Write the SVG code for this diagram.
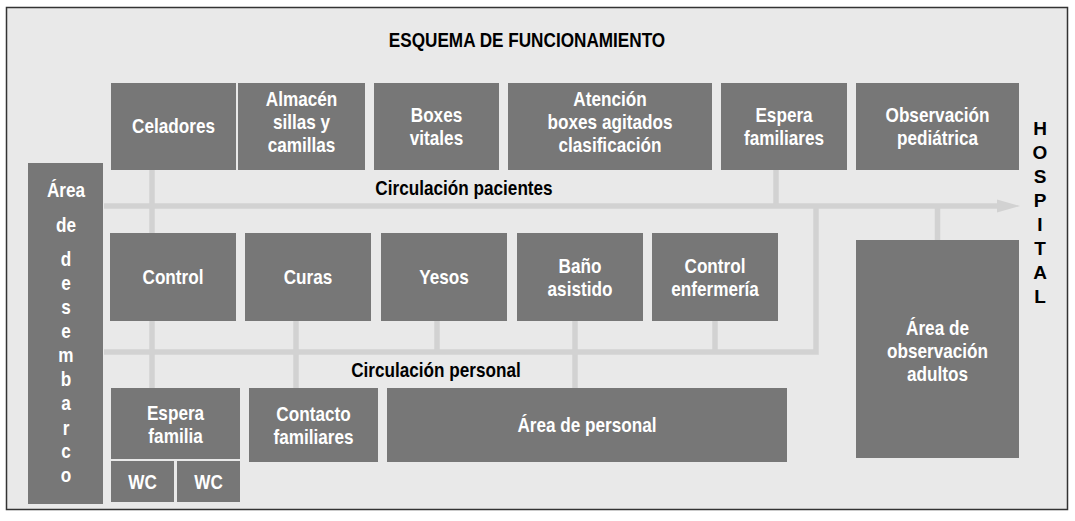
<svg xmlns="http://www.w3.org/2000/svg" width="1075" height="521" viewBox="0 0 1075 521">
<style>
.box{fill:#777777}
.t{font-family:"Liberation Sans",Arial,sans-serif;font-weight:bold;font-size:19.5px;text-anchor:middle;transform-box:fill-box;transform-origin:center;transform:scaleX(0.88)}
.w{fill:#ffffff}
.k{fill:#000000}
.ln{fill:none;stroke:#d2d2d2;stroke-width:5.5}
.h{font-family:"Liberation Sans",Arial,sans-serif;font-weight:bold;font-size:19px;text-anchor:middle;fill:#000}
</style>
<rect x="6.5" y="7.5" width="1061" height="502" fill="#e9e9e9" stroke="#333333" stroke-width="1.5"/>
<text class="t k" x="527" y="47">ESQUEMA DE FUNCIONAMIENTO</text>

<g id="connectors">
<line class="ln" x1="104" y1="206" x2="998" y2="206"/>
<polygon points="997,199.5 1020,206 997,212.5" fill="#d2d2d2"/>
<line class="ln" x1="152" y1="170" x2="152" y2="233"/>
<line class="ln" x1="776" y1="170" x2="776" y2="206"/>
<line class="ln" x1="937.5" y1="206" x2="937.5" y2="240"/>
<polyline class="ln" points="104,352 816,352 816,206"/>
<line class="ln" x1="152" y1="321" x2="152" y2="388"/>
<line class="ln" x1="296" y1="321" x2="296" y2="388"/>
<line class="ln" x1="437" y1="321" x2="437" y2="352"/>
<line class="ln" x1="575" y1="321" x2="575" y2="388"/>
<line class="ln" x1="715" y1="321" x2="715" y2="352"/>
</g>

<text class="t k" x="464" y="195">Circulación pacientes</text>
<text class="t k" x="436" y="377">Circulación personal</text>

<g id="desembarco">
<rect class="box" x="28" y="163" width="75" height="341"/>
<text class="t w" x="66" y="197">Área</text>
<text class="t w" x="66" y="232">de</text>
<text class="t w" x="66" y="266">d</text>
<text class="t w" x="66" y="290">e</text>
<text class="t w" x="66" y="314">s</text>
<text class="t w" x="66" y="338">e</text>
<text class="t w" x="66" y="362">m</text>
<text class="t w" x="66" y="386">b</text>
<text class="t w" x="66" y="410">a</text>
<text class="t w" x="66" y="435">r</text>
<text class="t w" x="66" y="458">c</text>
<text class="t w" x="66" y="482">o</text>
</g>

<g id="celadores">
<rect class="box" x="111" y="83" width="125" height="87"/>
<text class="t w" x="173.5" y="133">Celadores</text>
</g>
<g id="almacen">
<rect class="box" x="238" y="83" width="127" height="87"/>
<text class="t w" x="301.5" y="106">Almacén</text>
<text class="t w" x="301.5" y="129">sillas y</text>
<text class="t w" x="301.5" y="152">camillas</text>
</g>
<g id="boxes-vitales">
<rect class="box" x="374" y="83" width="125" height="87"/>
<text class="t w" x="436.5" y="122">Boxes</text>
<text class="t w" x="436.5" y="145">vitales</text>
</g>
<g id="atencion">
<rect class="box" x="508" y="83" width="204" height="87"/>
<text class="t w" x="610" y="106">Atención</text>
<text class="t w" x="610" y="129">boxes agitados</text>
<text class="t w" x="610" y="152">clasificación</text>
</g>
<g id="espera-familiares">
<rect class="box" x="721" y="83" width="126" height="87"/>
<text class="t w" x="784" y="122">Espera</text>
<text class="t w" x="784" y="145">familiares</text>
</g>
<g id="observacion-pediatrica">
<rect class="box" x="856" y="83" width="163" height="87"/>
<text class="t w" x="937.5" y="122">Observación</text>
<text class="t w" x="937.5" y="145">pediátrica</text>
</g>

<g id="control">
<rect class="box" x="110" y="233" width="126" height="88"/>
<text class="t w" x="173" y="284">Control</text>
</g>
<g id="curas">
<rect class="box" x="245" y="233" width="126" height="88"/>
<text class="t w" x="308" y="284">Curas</text>
</g>
<g id="yesos">
<rect class="box" x="381" y="233" width="126" height="88"/>
<text class="t w" x="444" y="284">Yesos</text>
</g>
<g id="bano">
<rect class="box" x="517" y="233" width="126" height="88"/>
<text class="t w" x="580" y="273">Baño</text>
<text class="t w" x="580" y="296">asistido</text>
</g>
<g id="control-enfermeria">
<rect class="box" x="652" y="233" width="126" height="88"/>
<text class="t w" x="715" y="273">Control</text>
<text class="t w" x="715" y="296">enfermería</text>
</g>

<g id="observacion-adultos">
<rect class="box" x="856" y="240" width="163" height="218"/>
<text class="t w" x="937.5" y="335">Área de</text>
<text class="t w" x="937.5" y="358">observación</text>
<text class="t w" x="937.5" y="381">adultos</text>
</g>

<g id="espera-familia">
<rect class="box" x="111" y="388" width="129" height="71"/>
<text class="t w" x="175.5" y="420">Espera</text>
<text class="t w" x="175.5" y="443">familia</text>
</g>
<g id="wc1">
<rect class="box" x="111" y="461" width="63" height="41"/>
<text class="t w" x="142.5" y="489">WC</text>
</g>
<g id="wc2">
<rect class="box" x="177" y="461" width="63" height="41"/>
<text class="t w" x="208.5" y="489">WC</text>
</g>
<g id="contacto">
<rect class="box" x="249" y="388" width="129" height="74"/>
<text class="t w" x="313.5" y="421">Contacto</text>
<text class="t w" x="313.5" y="444">familiares</text>
</g>
<g id="area-personal">
<rect class="box" x="387" y="388" width="400" height="74"/>
<text class="t w" x="587" y="432">Área de personal</text>
</g>

<g id="hospital">
<text class="h" x="1040" y="135">H</text>
<text class="h" x="1040" y="159">O</text>
<text class="h" x="1040" y="183">S</text>
<text class="h" x="1040" y="207">P</text>
<text class="h" x="1040" y="231">I</text>
<text class="h" x="1040" y="255">T</text>
<text class="h" x="1040" y="279">A</text>
<text class="h" x="1040" y="303">L</text>
</g>
</svg>
